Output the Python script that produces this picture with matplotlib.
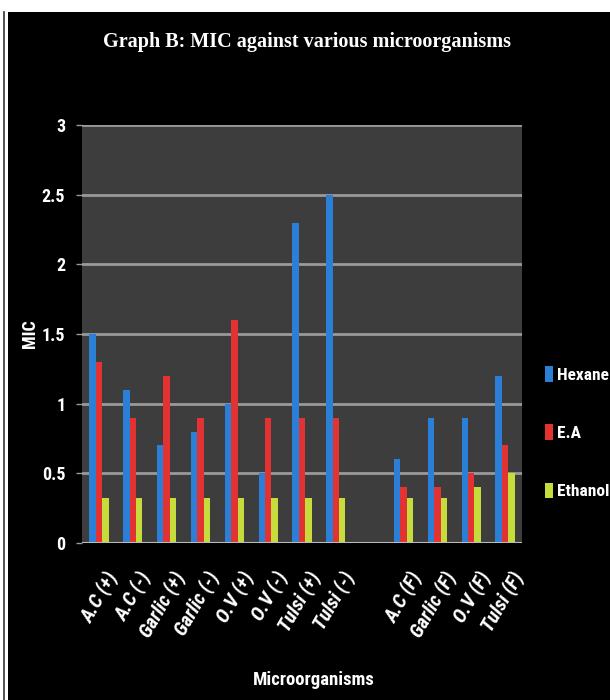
import numpy as np
import matplotlib.pyplot as plt
from matplotlib import font_manager
from matplotlib.patches import Rectangle
from matplotlib.lines import Line2D

# data
labels = ['A.C (+)', 'A.C (-)', 'Garlic (+)', 'Garlic (-)', 'O.V (+)', 'O.V (-)',
          'Tulsi (+)', 'Tulsi (-)', 'A.C (F)', 'Garlic (F)', 'O.V (F)', 'Tulsi (F)']
slots = [0, 1, 2, 3, 4, 5, 6, 7, 9, 10, 11, 12]   # one empty slot between the groups
hexane = [1.5, 1.1, 0.7, 0.8, 1.0, 0.5, 2.3, 2.5, 0.6, 0.9, 0.9, 1.2]
ea = [1.3, 0.9, 1.2, 0.9, 1.6, 0.9, 0.9, 0.9, 0.4, 0.4, 0.5, 0.7]
ethanol = [0.32, 0.32, 0.32, 0.32, 0.32, 0.32, 0.32, 0.32, 0.32, 0.32, 0.4, 0.5]
series = ['Hexane', 'E.A', 'Ethanol']
colors = ['#2b7fd6', '#e23232', '#c6dc3a']

# pick a narrow sans if one is there
installed = {f.name for f in font_manager.fontManager.ttflist}
narrow = 'DejaVu Sans'
for name in ['Liberation Sans Narrow', 'DejaVu Sans Condensed', 'Roboto Condensed',
             'Open Sans Condensed', 'Noto Sans Condensed']:
    if name in installed:
        narrow = name
        break
scale = 1.0 if narrow != 'DejaVu Sans' else 0.8
fam = [narrow, 'DejaVu Sans']

fig = plt.figure(figsize=(6.1, 7), dpi=100)
fig.patch.set_facecolor('black')

# white frame strips at top and left
fig.patches.append(Rectangle((0, 1 - 12/700), 1, 12/700, transform=fig.transFigure,
                             facecolor='white', edgecolor='none'))
fig.patches.append(Rectangle((0, 0), 8/610, 1, transform=fig.transFigure,
                             facecolor='white', edgecolor='none'))
fig.lines.append(Line2D([4/610, 4/610], [0, 1 - 12/700], transform=fig.transFigure,
                        color='#333333', lw=1.2))

ax = fig.add_axes([82/610, 1 - 543/700, 440/610, 418/700])
ax.set_facecolor('#3d3d3d')

x = np.array(slots, dtype=float)
w = 0.19
for i, (vals, c) in enumerate(zip([hexane, ea, ethanol], colors)):
    ax.bar(x + (i - 1) * w, vals, width=w, color=c, edgecolor='none', zorder=3, label=series[i])

ax.set_xlim(-0.5, 12.5)
ax.set_ylim(0, 3)
ax.set_yticks([0, 0.5, 1, 1.5, 2, 2.5, 3])
ax.set_yticklabels(['0', '0.5', '1', '1.5', '2', '2.5', '3'])
ax.yaxis.grid(True, color='#9a9a9a', lw=2, zorder=1)
ax.set_axisbelow(True)
for s in ax.spines.values():
    s.set_visible(False)
ax.axhline(0, color='#bbbbbb', lw=1.5, zorder=4)

ax.tick_params(axis='y', colors='#999999', length=4, width=1, labelcolor='white',
               labelsize=13 * scale, pad=8)
for t in ax.get_yticklabels():
    t.set_fontweight('bold')
    t.set_family(fam)

ax.set_xticks(x + 0.15)
ax.set_xticklabels(labels, rotation=60, ha='right', va='top', rotation_mode='anchor',
                   color='white', fontsize=14.5 * scale, fontweight='bold', style='italic',
                   family=fam)
ax.tick_params(axis='x', length=0, pad=18)

ax.set_ylabel('MIC', color='white', fontsize=13 * scale, fontweight='bold', family=fam)
ax.yaxis.set_label_coords(-0.097, 0.5)
fig.text(0.515, 1 - 680/700, 'Microorganisms', color='white', fontsize=13.5 * scale,
         fontweight='bold', ha='center', va='center', family=fam)

fig.text(0.503, 1 - 42/700, 'Graph B: MIC against various microorganisms', color='white',
         fontsize=14.5, fontweight='bold', ha='center', va='center',
         family=['Liberation Serif', 'DejaVu Serif'])

leg = fig.legend(loc='upper left', bbox_to_anchor=(545/610, 1 - 366/700), frameon=False,
                 handlelength=0.45, handleheight=1.0, handletextpad=0.25, labelspacing=2.4,
                 borderaxespad=0, borderpad=0,
                 prop={'weight': 'bold', 'size': 12.5 * scale, 'family': fam})
for t in leg.get_texts():
    t.set_color('white')

fig.savefig('out.png', dpi=100, facecolor=fig.get_facecolor())
